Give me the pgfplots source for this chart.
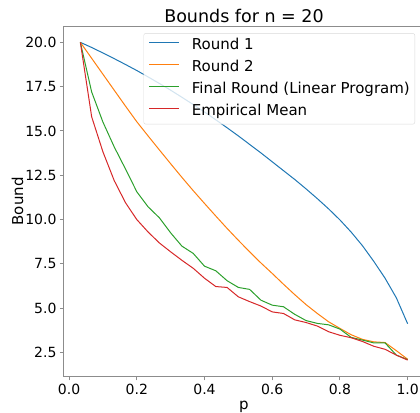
\documentclass[border=0pt]{standalone}
\usepackage{fontspec}
\setmainfont{DejaVu Sans}
\usepackage{pgfplots}
\usepackage{pgfplotstable}
\pgfplotsset{compat=1.18}
\definecolor{tabblue}{HTML}{1F77B4}
\definecolor{taborange}{HTML}{FF7F0E}
\definecolor{tabgreen}{HTML}{2CA02C}
\definecolor{tabred}{HTML}{D62728}
\pgfplotstableread{
p      r1     r2     lp     em
0.0333 20.00  20.00  20.00  20.00
0.0667 19.71  19.10  17.20  15.80
0.1000 19.40  18.20  15.50  13.82
0.1333 19.08  17.30  14.10  12.20
0.1667 18.75  16.40  12.85  10.95
0.2000 18.41  15.52  11.57  10.00
0.2333 18.05  14.72  10.72   9.30
0.2667 17.68  13.93  10.10   8.68
0.3000 17.30  13.15   9.25   8.18
0.3333 16.90  12.38   8.50   7.70
0.3667 16.49  11.63   8.09   7.25
0.4000 16.07  10.91   7.37   6.69
0.4333 15.63  10.20   7.11   6.22
0.4667 15.18   9.50   6.55   6.17
0.5000 14.72   8.83   6.17   5.64
0.5333 14.24   8.18   6.06   5.37
0.5667 13.76   7.55   5.45   5.12
0.6000 13.26   6.96   5.17   4.79
0.6333 12.76   6.35   5.08   4.70
0.6667 12.26   5.76   4.65   4.34
0.7000 11.73   5.20   4.30   4.19
0.7333 11.18   4.70   4.14   3.99
0.7667 10.60   4.23   4.06   3.67
0.8000  9.98   3.86   3.82   3.47
0.8333  9.29   3.50   3.35   3.33
0.8667  8.52   3.24   3.20   3.12
0.9000  7.64   3.10   3.04   2.85
0.9333  6.69   3.06   3.04   2.68
0.9667  5.58   2.60   2.35   2.35
1.0000  4.12   2.12   2.10   2.07
}\datatable
\begin{document}
\begin{tikzpicture}
\begin{axis}[
  scale only axis,
  width=360pt, height=350pt,
  xmin=-0.015, xmax=1.0483,
  ymin=1.15, ymax=20.9,
  axis line style={black!45, line width=1pt},
  tick style={black!45, line width=1pt},
  major tick length=4pt,
  tick align=outside,
  xtick pos=lower, ytick pos=left,
  xtick={0,0.2,0.4,0.6,0.8,1},
  ytick={2.5,5,7.5,10,12.5,15,17.5,20},
  /pgf/number format/assume math mode=true,
  xticklabel style={/pgf/number format/.cd, fixed, fixed zerofill, precision=1},
  yticklabel style={/pgf/number format/.cd, fixed, fixed zerofill, precision=1},
  tick label style={font=\fontsize{14}{16}\selectfont, text=black},
  label style={font=\fontsize{15}{18}\selectfont},
  xlabel={p},
  ylabel={Bound},
  ylabel style={yshift=-5pt},
  title={Bounds for n = 20},
  title style={font=\fontsize{17.5}{20}\selectfont, yshift=-6pt},
  legend cell align=left,
  legend style={
    at={(rel axis cs:1,1)}, anchor=north east,
    xshift=-9pt, yshift=-6.8pt,
    draw=black!15, rounded corners=2pt,
    fill=white, fill opacity=0.8, text opacity=1,
    font=\fontsize{15}{18}\selectfont,
    inner xsep=5pt, inner ysep=5pt,
    row sep=7.6pt,
    nodes={inner sep=0pt, text height=11pt, text depth=3.5pt},
    /tikz/every odd column/.append style={column sep=12pt},
  },
  legend image code/.code={\draw[#1, line width=1.1pt, draw opacity=1] (0pt,3.5pt) -- (30pt,3.5pt);},
  every axis plot/.append style={line width=1pt},
]
\coordinate (ll) at (rel axis cs:0,0);
\coordinate (ur) at (rel axis cs:1,1);
\addplot[tabblue, no marks] table[x=p, y=r1] {\datatable};
\addlegendentry{Round 1}
\addplot[taborange, no marks] table[x=p, y=r2] {\datatable};
\addlegendentry{Round 2}
\addplot[tabgreen, no marks] table[x=p, y=lp] {\datatable};
\addlegendentry{Final Round (Linear Program)}
\addplot[tabred, no marks] table[x=p, y=em] {\datatable};
\addlegendentry{Empirical Mean}
\end{axis}
\pgfresetboundingbox
\path[use as bounding box] ([xshift=-64pt,yshift=-35.8pt]ll) rectangle ([xshift=-4pt,yshift=26.4pt]ur);
\end{tikzpicture}
\end{document}
